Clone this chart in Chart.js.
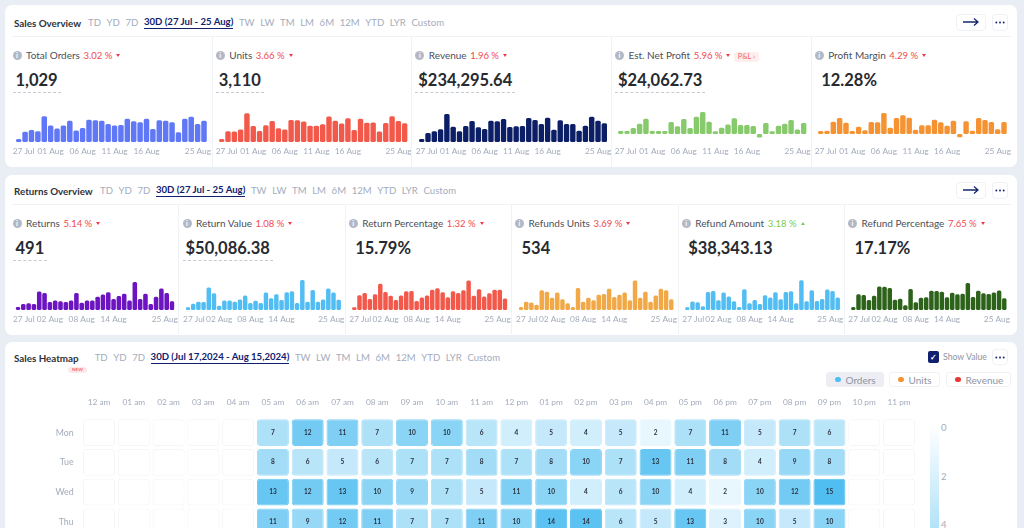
<!DOCTYPE html>
<html>
<head>
<meta charset="utf-8">
<title>Overview</title>
<script src="https://cdn.jsdelivr.net/npm/chart.js@4"></script>
<style>
html, body { margin:0; padding:0; width:1024px; height:528px; overflow:hidden; background:#e9edf4; font-family:Lato,sans-serif; }
.card { position:absolute; left:5px; width:1012px; background:#fff; border-radius:7px; }
.abs { position:absolute; white-space:nowrap; }
.nav { display:flex; gap:5.6px; font-size:9.6px; color:#a4acbd; align-items:center; height:14px; }
.nav b { color:#10206e; font-weight:700; border-bottom:1.2px solid #10206e; line-height:12px; font-size:9.6px; }
.title { font-size:9.8px; font-weight:700; color:#2e323b; line-height:14px; }
.hline { position:absolute; height:1px; background:#f0f2f6; }
.vline { position:absolute; width:1px; background:#f0f2f6; }
.metric { display:flex; align-items:center; font-size:10px; color:#4b4f5a; height:14px; }
.info { width:9px; height:9px; border-radius:50%; background:#b3b8c6; color:#fff; font-size:7px; font-weight:700; line-height:9px; text-align:center; margin-right:4.5px; }
.pct { margin-left:3.5px; font-size:9.5px; }
.down, .up { margin-left:4px; width:0; height:0; border-left:2.5px solid transparent; border-right:2.5px solid transparent; }
.down { border-top:3px solid #ef3d48; }
.up { border-bottom:3px solid #7ccb52; }
.val { font-size:16.5px; font-weight:700; color:#272a30; line-height:22px; }
.dash { border-bottom:1px dashed #c6cad3; padding:0 3px 1px 3px; }
.plain { padding:0 3px 0 6.5px; }
.btn { position:absolute; background:#fff; border:1px solid #eff1f6; border-radius:4px; box-sizing:border-box; display:flex; align-items:center; justify-content:center; }
canvas { position:absolute; }
.pill { position:absolute; height:15px; border:1px solid #f0f2f6; border-radius:3px; box-sizing:border-box; font-size:10px; color:#8e95a6; display:flex; align-items:center; padding-left:8px; }
.pill i { width:5.5px; height:5.5px; border-radius:50%; margin-right:5px; }
</style>
</head>
<body>
<script>
// ---- data ----
var navItemsA = ['TD','YD','7D'];
var navItemsB = ['TW','LW','TM','LM','6M','12M','YTD','LYR','Custom'];
var salesRange = '30D (27 Jul - 25 Aug)';
var heatRange = '30D (Jul 17,2024 - Aug 15,2024)';

var salesTickLabels = ['27 Jul','01 Aug','06 Aug','11 Aug','16 Aug','25 Aug'];
var salesTickIndex = [-0.95,5,10,15,20,30.1];
var returnTickLabels = ['27 Jul','02 Aug','08 Aug','14 Aug','25 Aug'];
var returnTickIndex = [-0.95,6,12,18,30.1];

var totalOrders = [6,20,23,21,50,32,26,32,41,22,27,43,42,41,35,32,33,45,40,38,45,25,42,41,38,19,45,49,35,41];
var units = [18,63,61,74,168,94,65,98,123,80,74,129,127,121,96,96,104,149,125,108,139,70,137,113,115,61,111,151,123,110];
var revenue = [1320,3970,4700,5590,12350,6760,4700,7060,9260,6470,5730,9410,9110,10140,6620,6910,7060,10580,9700,7940,10730,5440,9560,7940,7940,5000,7200,11170,9410,8230];
var netProfit = [280,280,560,970,1430,280,280,280,1120,720,1400,560,1620,2060,1150,250,590,900,1470,840,840,750,-340,1030,250,780,970,1310,410,1030];
var profitMargin = [3.6,4,14.8,19.2,13.6,3.6,8.8,4.4,14.4,14,25.2,7.6,19.2,22.4,19.6,5.2,10.4,10.4,17.2,14,10,16,-4,15.2,4,19.2,16.8,14.4,5.6,14.4];

var returnsCount = [4,8,9,8,25,23,11,13,12,11,13,23,10,13,13,18,21,24,15,19,22,13,38,15,22,8,18,29,23,12];
var returnValue = [360,860,1130,1080,3060,2300,590,1310,1310,1130,1440,1980,950,1260,950,2390,1620,2160,1350,2430,2570,950,4100,1130,2750,1130,1440,2930,2390,1400];
var returnPct = [2.6,14.5,16.8,10.9,15.5,25.7,17.8,13.9,9.9,14.2,18.5,18.8,8.9,12.2,14.2,19.8,21.5,17.5,12.5,18.5,16.8,19.5,29,13.9,20.5,13.2,16.5,19.8,19.8,11.2];
var refundUnits = [4,11,10,7,26,24,16,23,14,9,4,29,11,16,13,20,21,28,17,20,23,13,39,16,24,11,19,28,26,14];
var refundAmount = [270,840,770,370,1800,1900,970,1740,1340,870,300,2070,670,1000,600,1470,1240,1770,1070,1800,1870,670,2970,870,1970,900,1100,2040,1900,1240];
var refundPct = [3.3,17.2,16.4,11,15.7,25.9,25.6,24.1,11.3,12.4,5.1,23,8.4,13.5,13.9,21.2,20.8,20.1,13.9,19,17.2,17.9,29.6,14.2,21.2,18.3,17.5,19.3,21.5,12.8];

var hourLabels = ['12 am','01 am','02 am','03 am','04 am','05 am','06 am','07 am','08 am','09 am','10 am','11 am','12 pm','01 pm','02 pm','03 pm','04 pm','05 pm','06 pm','07 pm','08 pm','09 pm','10 pm','11 pm'];
var dayLabels = ['Mon','Tue','Wed','Thu'];
var monOrders = [0,0,0,0,0,7,12,11,7,10,10,6,4,5,4,5,2,7,11,5,7,6,0,0];
var tueOrders = [0,0,0,0,0,8,6,5,6,7,7,8,7,8,10,7,13,11,8,4,9,8,0,0];
var wedOrders = [0,0,0,0,0,13,12,13,10,9,7,5,11,10,4,6,10,4,2,10,12,15,0,0];
var thuOrders = [0,0,0,0,0,11,9,12,11,7,7,11,10,14,14,6,5,13,3,10,5,10,0,0];
var heatRows = [monOrders,tueOrders,wedOrders,thuOrders];

var DOTS = '<svg width="10" height="3" viewBox="0 0 10 3"><circle cx="1.3" cy="1.5" r="1" fill="#1a2a7c"/><circle cx="5" cy="1.5" r="1" fill="#1a2a7c"/><circle cx="8.7" cy="1.5" r="1" fill="#1a2a7c"/></svg>';

// ---- small dom helpers ----
function el(cls, css, html) {
    var d = document.createElement('div');
    d.className = cls;
    d.style.cssText = css;
    if (html !== undefined) d.innerHTML = html;
    document.body.appendChild(d);
    return d;
}

function drawHeader(title, titleX, navX, y, range) {
    el('abs title', 'left:'+titleX+'px;top:'+(y-7)+'px;', title);
    var html = '';
    navItemsA.forEach(function(t){ html += '<span>'+t+'</span>'; });
    html += '<b>'+range+'</b>';
    navItemsB.forEach(function(t){ html += '<span>'+t+'</span>'; });
    el('abs nav', 'left:'+navX+'px;top:'+(y-7)+'px;', html);
}

function drawMetric(x, y, name, pct, dir, value, dashed) {
    var color = dir == 'up' ? '#7ccb52' : '#ef4a50';
    el('abs metric', 'left:'+x+'px;top:'+(y-7)+'px;',
       '<span class="info">i</span><span>'+name+'</span><span class="pct" style="color:'+color+'">'+pct+'</span><span class="'+dir+'"></span>');
    el('abs val '+(dashed ? 'dash' : 'plain'), 'left:'+x+'px;top:'+(y+14)+'px;', value);
}

function drawButtons(y) {
    el('btn', 'left:956px;top:'+y+'px;width:30px;height:17px;',
       '<svg width="18" height="10" viewBox="0 0 18 10"><path d="M1 5H16M12 1.5L16 5L12 8.5" fill="none" stroke="#16276f" stroke-width="1.3"/></svg>');
    el('btn', 'left:992px;top:'+y+'px;width:16px;height:17px;', DOTS);
}

// ---- bars of one metric ----
function drawSpark(cellLeft, cellRight, plotTop, firstX, lastX, values, yMin, yMax, color, tickLabels, tickIndex) {
    var canvas = document.createElement('canvas');
    var plotH = 30;
    var w = cellRight - cellLeft;
    var pitch = (lastX - firstX) / (values.length - 1);
    canvas.width = w;
    canvas.height = plotH + 20;
    canvas.style.left = cellLeft + 'px';
    canvas.style.top = plotTop + 'px';
    document.body.appendChild(canvas);

    new Chart(canvas.getContext('2d'), {
        type: 'bar',
        data: {
            labels: values.map(function(v, i){ return i; }),
            datasets: [{ data: values, backgroundColor: color, borderRadius: 1.5, borderSkipped: false,
                         barPercentage: 0.86, categoryPercentage: 1 }]
        },
        options: {
            responsive: false,
            animation: false,
            layout: { padding: { left: firstX - pitch / 2 - cellLeft, right: cellRight - lastX - pitch / 2, top: 0, bottom: 0 } },
            plugins: { legend: { display: false }, tooltip: { enabled: false } },
            scales: {
                x: {
                    grid: { display: false, drawTicks: false },
                    border: { display: false },
                    afterBuildTicks: function(scale) {
                        scale.ticks = tickIndex.map(function(v){ return { value: v }; });
                    },
                    afterFit: function(scale) {
                        scale.height = 20;
                        scale.paddingLeft = 0;
                        scale.paddingRight = 0;
                    },
                    ticks: {
                        autoSkip: false, maxRotation: 0, align: 'inner', padding: 4,
                        color: '#a3abbb', font: { family: 'Lato', size: 8.3 },
                        callback: function(v, i){ return tickLabels[i]; }
                    }
                },
                y: { display: false, min: yMin, max: yMax }
            }
        }
    });
}

// ---- heat map ----
function heatColor(v) {
    var t = Math.min(v / 15, 1);
    return 'rgb(' + Math.round(255 - 175 * t) + ',' + Math.round(255 - 65 * t) + ',' + Math.round(255 - 15 * t) + ')';
}

var cellValues = {
    id: 'cellValues',
    afterDatasetsDraw: function(chart) {
        var ctx = chart.ctx;
        ctx.save();
        ctx.font = '700 6.5px Lato';
        ctx.fillStyle = '#2b3140';
        ctx.textAlign = 'center';
        ctx.textBaseline = 'middle';
        heatRows.forEach(function(row, r) {
            var meta = chart.getDatasetMeta(r);
            row.forEach(function(v, i) {
                if (v > 0) {
                    var pos = meta.data[i].getCenterPoint();
                    ctx.fillText(v, pos.x, pos.y);
                }
            });
        });
        ctx.restore();
    }
};

function drawHeatmap() {
    var canvas = document.createElement('canvas');
    canvas.width = 1024;
    canvas.height = 170;
    canvas.style.left = '0px';
    canvas.style.top = '380px';
    document.body.appendChild(canvas);

    var datasets = heatRows.map(function(row, r) {
        return {
            data: row.map(function(){ return [r - 0.45, r + 0.45]; }),
            backgroundColor: row.map(function(v){ return v > 0 ? heatColor(v) : '#ffffff'; }),
            borderColor: row.map(function(v){ return v > 0 ? heatColor(v) : '#f4f5f8'; }),
            borderWidth: 1,
            borderRadius: 3,
            borderSkipped: false,
            barPercentage: 0.92,
            categoryPercentage: 1,
            grouped: false
        };
    });

    new Chart(canvas.getContext('2d'), {
        type: 'bar',
        data: { labels: hourLabels, datasets: datasets },
        plugins: [cellValues],
        options: {
            responsive: false,
            animation: false,
            layout: { padding: { right: 107.6, top: 0, bottom: 0, left: 0 } },
            plugins: { legend: { display: false }, tooltip: { enabled: false } },
            scales: {
                x: {
                    position: 'top',
                    grid: { display: false, drawTicks: false },
                    border: { display: false },
                    afterFit: function(scale) { scale.height = 37.8; scale.paddingLeft = 0; scale.paddingRight = 0; },
                    ticks: { autoSkip: false, maxRotation: 0, padding: 10, color: '#a3abbb', font: { family: 'Lato', size: 8.3 } }
                },
                y: {
                    reverse: true,
                    min: -0.5,
                    max: 3.5,
                    grid: { display: false, drawTicks: false },
                    border: { display: false },
                    afterFit: function(scale) { scale.width = 81.6; },
                    afterBuildTicks: function(scale) {
                        scale.ticks = dayLabels.map(function(d, i){ return { value: i }; });
                    },
                    ticks: {
                        padding: 8, color: '#a3abbb', font: { family: 'Lato', size: 8.8 },
                        callback: function(v){ return dayLabels[v]; }
                    }
                }
            }
        }
    });
}

// ---- page ----
el('card', 'top:5px;height:162px;');
el('card', 'top:175px;height:159.5px;');
el('card', 'top:342px;height:200px;');

drawHeader('Sales Overview', 14, 88, 22.5, salesRange);
drawHeader('Returns Overview', 14, 100, 190.5, salesRange);
drawHeader('Sales Heatmap', 14, 94.7, 357.5, heatRange);
el('hline', 'left:12px;width:999px;top:36px;');
el('hline', 'left:12px;width:999px;top:204px;');
[212,411,611,811].forEach(function(x){ el('vline', 'left:'+x+'px;top:37px;height:130px;'); });
[178,345,511,678,844].forEach(function(x){ el('vline', 'left:'+x+'px;top:205px;height:129px;'); });
drawButtons(13.5);
drawButtons(181.5);

drawMetric(12.5, 55, 'Total Orders', '3.02 %', 'down', '1,029', true);
drawMetric(215.7, 55, 'Units', '3.66 %', 'down', '3,110', true);
drawMetric(415.3, 55, 'Revenue', '1.96 %', 'down', '$234,295.64', true);
drawMetric(615, 55, 'Est. Net Profit', '5.96 %', 'down', '$24,062.73', true);
drawMetric(814.7, 55, 'Profit Margin', '4.29 %', 'down', '12.28%', false);
el('abs', 'left:734px;top:51.5px;width:25px;height:10px;background:#feeeee;border-radius:3px;color:#f0666c;font-size:7.5px;line-height:10px;text-align:center;', 'P&amp;L &rsaquo;');

drawMetric(12.5, 223, 'Returns', '5.14 %', 'down', '491', true);
drawMetric(182.5, 223, 'Return Value', '1.08 %', 'down', '$50,086.38', true);
drawMetric(348.7, 223, 'Return Percentage', '1.32 %', 'down', '15.79%', false);
drawMetric(515, 223, 'Refunds Units', '3.69 %', 'down', '534', false);
drawMetric(681.7, 223, 'Refund Amount', '3.18 %', 'up', '$38,343.13', false);
drawMetric(848, 223, 'Refund Percentage', '7.65 %', 'down', '17.17%', false);

drawSpark(5, 212, 112.3, 18.7, 204, totalOrders, 0, 58, '#6078f6', salesTickLabels, salesTickIndex);
drawSpark(213, 411, 112.3, 221.7, 404.7, units, 0, 176, '#f2594b', salesTickLabels, salesTickIndex);
drawSpark(412, 611, 112.3, 421.7, 604.3, revenue, 0, 13230, '#0c1f66', salesTickLabels, salesTickIndex);
drawSpark(612, 811, 112.3, 620.7, 803.7, netProfit, -750, 2060, '#86ca6b', salesTickLabels, salesTickIndex);
drawSpark(812, 1011, 112.3, 820.7, 1004, profitMargin, -9.6, 26.4, '#f59232', salesTickLabels, salesTickIndex);

drawSpark(5, 178, 280.3, 18, 172, returnsCount, 0, 40.7, '#6c14c0', returnTickLabels, returnTickIndex);
drawSpark(179, 345, 280.3, 188, 338.7, returnValue, 0, 4100, '#52bdf3', returnTickLabels, returnTickIndex);
drawSpark(346, 511, 280.3, 354.3, 505, returnPct, 0, 29.5, '#f2594b', returnTickLabels, returnTickIndex);
drawSpark(512, 678, 280.3, 521, 671.3, refundUnits, 0, 39.5, '#f1a948', returnTickLabels, returnTickIndex);
drawSpark(679, 844, 280.3, 687.3, 837.7, refundAmount, 0, 3000, '#52bdf3', returnTickLabels, returnTickIndex);
drawSpark(845, 1011, 280.3, 853.3, 1004.3, refundPct, 0, 32.9, '#2c6219', returnTickLabels, returnTickIndex);

el('abs', 'left:68px;top:367px;width:19px;height:6px;background:#fde8e8;border-radius:3px;color:#f0666c;font-size:4.5px;font-weight:700;line-height:6px;text-align:center;', 'NEW');
el('abs', 'left:928px;top:351px;width:11px;height:12px;background:#10206e;border-radius:2px;color:#fff;font-size:8px;font-weight:700;line-height:12px;text-align:center;', '&#10003;');
el('abs', 'left:943px;top:350px;font-size:8.7px;color:#8e95a6;line-height:14px;', 'Show Value');
el('btn', 'left:992px;top:349px;width:16px;height:16px;', DOTS);
el('pill', 'left:826px;top:372px;width:58px;background:#eceef3;border-color:#eceef3;', '<i style="background:#4fbdf2"></i>Orders');
el('pill', 'left:889px;top:372px;width:51px;background:#fff;', '<i style="background:#f59232"></i>Units');
el('pill', 'left:946px;top:372px;width:65px;background:#fff;', '<i style="background:#e8383a"></i>Revenue');

// colour key
el('abs', 'left:930px;top:425px;width:8.5px;height:110px;background:linear-gradient(to bottom,#ffffff,' + heatColor(7) + ');');
el('abs', 'left:941px;top:421px;font-size:9.5px;color:#a3abbb;line-height:14px;', '0');
el('abs', 'left:941px;top:470px;font-size:9.5px;color:#a3abbb;line-height:14px;', '2');
el('abs', 'left:941px;top:518px;font-size:9.5px;color:#a3abbb;line-height:14px;', '4');

drawHeatmap();
</script>
</body>
</html>
